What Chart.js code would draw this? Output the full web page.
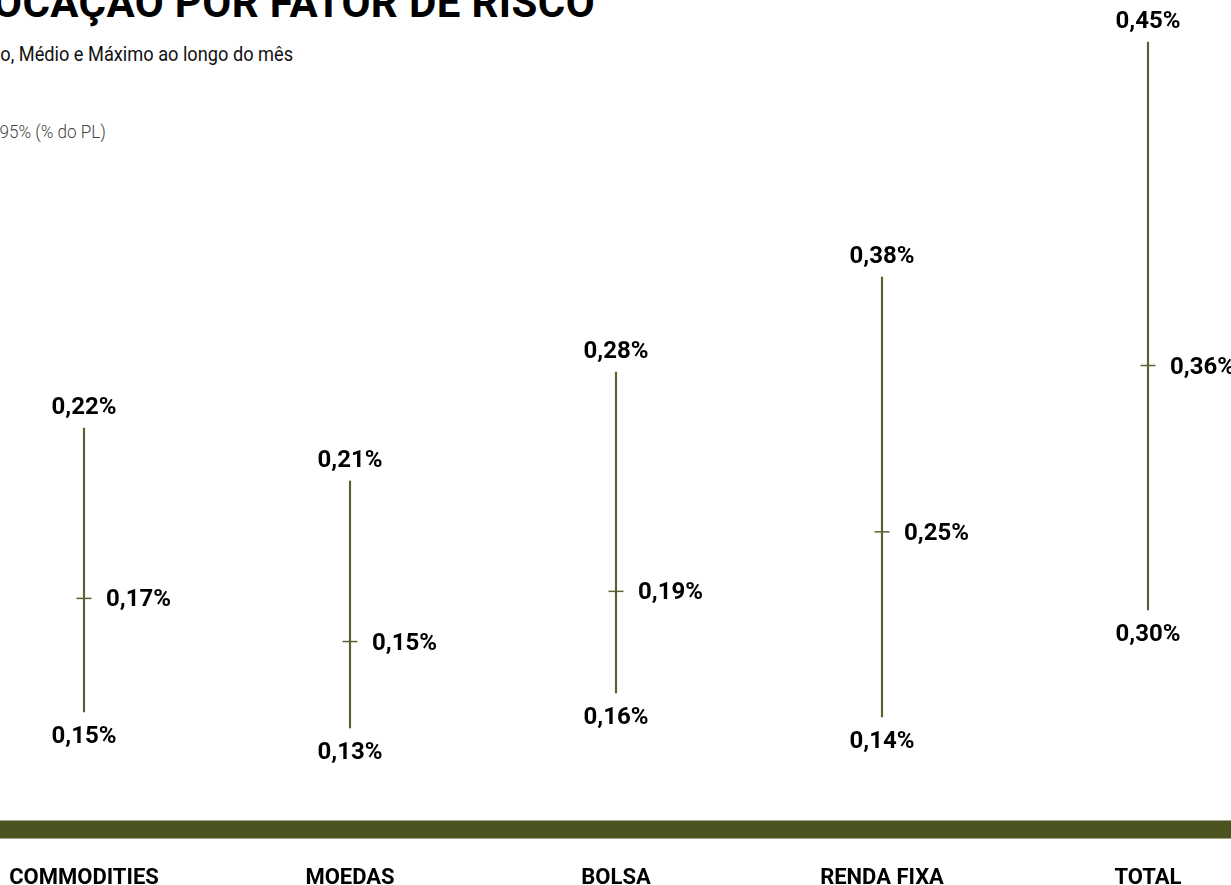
<!DOCTYPE html>
<html>
<head>
<meta charset="utf-8">
<script src="https://cdn.jsdelivr.net/npm/chart.js@4.4.0/dist/chart.umd.min.js"></script>
<style>
html,body{margin:0;padding:0;width:1231px;height:885px;overflow:hidden;background:#fff;font-family:Roboto,"Open Sans",sans-serif;}
.txt{position:absolute;white-space:nowrap;line-height:1;text-align:right;transform-origin:right center;}
#title{right:636px;top:-18px;font-size:42px;font-weight:700;color:#000;letter-spacing:0.4px;}
#sub{right:938px;top:44px;font-size:20px;font-weight:400;color:#111;transform:scaleX(0.91);}
#unit{right:1125px;top:122px;font-size:19px;font-weight:300;color:#444;transform:scaleX(0.9);}
#wrap{position:absolute;left:-49px;top:0;width:1330px;height:900px;}
</style>
</head>
<body>
<div id="title" class="txt">ALOCAÇÃO POR FATOR DE RISCO</div>
<div id="sub" class="txt">VaR Mínimo, Médio e Máximo ao longo do mês</div>
<div id="unit" class="txt">VaR paramétrico 95% (% do PL)</div>
<div id="wrap"><canvas id="c"></canvas></div>
<script>
// Data (values in % of PL)
const categories = ['COMMODITIES', 'MOEDAS', 'BOLSA', 'RENDA FIXA', 'TOTAL'];
const minValues  = [0.146, 0.126, 0.156, 0.144, 0.296];
const meanValues = [0.174, 0.154, 0.194, 0.245, 0.364];
const maxValues  = [0.216, 0.206, 0.276, 0.384, 0.454];
// each category is drawn on its own vertical scale (as in the original layout)
const scaleMin = [0.11938, 0.09620, 0.10853, 0.08782, 0.23758];
const scaleMax = [0.32149, 0.36179, 0.41507, 0.53509, 0.46568];

const OLIVE = '#5b6132';
const fmt = v => (Math.round(v * 100) / 100).toFixed(2).replace('.', ',') + '%';

const datasets = [];
categories.forEach((c, i) => {
  datasets.push({
    type: 'bar',
    label: c + ' range',
    data: categories.map((_, j) => j === i ? [minValues[i], maxValues[i]] : null),
    yAxisID: 'y' + i,
    backgroundColor: OLIVE,
    barThickness: 1.5,
    grouped: false,
    skipNull: true
  });
  datasets.push({
    type: 'line',
    label: c + ' média',
    data: categories.map((_, j) => j === i ? meanValues[i] : null),
    yAxisID: 'y' + i,
    showLine: false,
    pointStyle: 'line',
    pointRadius: 7.5,
    pointBorderWidth: 1.5,
    borderWidth: 1.5,
    borderColor: OLIVE,
    backgroundColor: OLIVE
  });
});

const scales = {
  x: {
    type: 'category',
    offset: true,
    grid: { display: false, drawTicks: false },
    border: { display: false },
    ticks: { color: '#000', font: { family: 'Roboto', weight: 'bold', size: 22 }, padding: 45, maxRotation: 0, autoSkip: false },
    afterFit: s => { s.height = 80; }
  }
};
categories.forEach((c, i) => {
  scales['y' + i] = { type: 'linear', display: false, min: scaleMin[i], max: scaleMax[i] };
});

const bandPlugin = {
  id: 'band',
  beforeDatasetsDraw(chart) {
    const { ctx, chartArea } = chart;
    const y = chartArea.bottom;
    ctx.save();
    ctx.fillStyle = '#a3a688';
    ctx.fillRect(0, y, chart.width, 1);
    ctx.fillStyle = '#4c5321';
    ctx.fillRect(0, y + 1, chart.width, 17);
    ctx.fillStyle = '#a3a688';
    ctx.fillRect(0, y + 18, chart.width, 1);
    ctx.restore();
  }
};

const labelPlugin = {
  id: 'vlabels',
  afterDatasetsDraw(chart) {
    const ctx = chart.ctx;
    const xs = chart.scales.x;
    ctx.save();
    ctx.font = 'bold 24px Roboto';
    ctx.fillStyle = '#000';
    ctx.textBaseline = 'middle';
    categories.forEach((c, i) => {
      const ys = chart.scales['y' + i];
      const x = xs.getPixelForValue(i);
      ctx.textAlign = 'center';
      ctx.fillText(fmt(maxValues[i]), x, ys.getPixelForValue(maxValues[i]) - 20);
      ctx.fillText(fmt(minValues[i]), x, ys.getPixelForValue(minValues[i]) + 25);
      ctx.textAlign = 'left';
      ctx.fillText(fmt(meanValues[i]), x + 22, ys.getPixelForValue(meanValues[i]) + 2);
    });
    ctx.restore();
  }
};

new Chart(document.getElementById('c'), {
  type: 'bar',
  data: { labels: categories, datasets },
  options: {
    responsive: true,
    maintainAspectRatio: false,
    animation: false,
    layout: { padding: 0, autoPadding: false },
    plugins: { legend: { display: false }, tooltip: { enabled: false }, title: { display: false } },
    scales
  },
  plugins: [bandPlugin, labelPlugin]
});
</script>
</body>
</html>
